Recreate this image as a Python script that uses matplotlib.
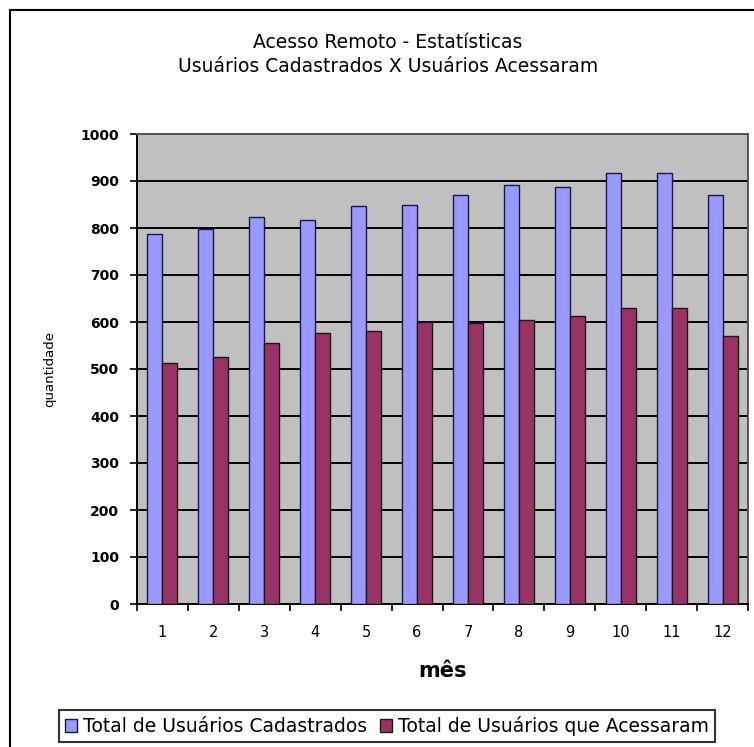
import matplotlib
matplotlib.use("Agg")
import matplotlib.pyplot as plt
from matplotlib.lines import Line2D
import numpy as np

# dados
meses = ["1", "2", "3", "4", "5", "6", "7", "8", "9", "10", "11", "12"]
cadastrados = [787, 797, 824, 816, 846, 850, 871, 891, 888, 917, 917, 871]
acessaram = [513, 526, 555, 576, 580, 600, 598, 605, 613, 629, 629, 571]

plt.rcParams['font.family'] = ['DejaVu Sans']

W, H = 754, 747
fig = plt.figure(figsize=(W / 100, H / 100), dpi=100)
fig.patch.set_facecolor("white")

# plot area in pixel coords
left, right, top, bottom = 137, 748, 134, 604
ax = fig.add_axes([left / W, (H - bottom) / H, (right - left) / W, (bottom - top) / H])
ax.set_facecolor("#C0C0C0")

x = np.arange(len(meses))
w = 0.295
ax.bar(x - w / 2, cadastrados, width=w, color="#9999FF", edgecolor="#1a1a40", linewidth=1.0, zorder=3)
ax.bar(x + w / 2, acessaram, width=w, color="#993366", edgecolor="#1a1a1a", linewidth=1.0, zorder=3)

ax.set_xlim(-0.5, len(meses) - 0.5)
ax.set_ylim(0, 1000)
ax.set_yticks(range(0, 1001, 100))
ax.yaxis.grid(True, color="black", linewidth=1.4, zorder=1)
ax.set_axisbelow(True)

# x labels at category centres, ticks at category boundaries
ax.set_xticks(x)
ax.set_xticklabels(meses, fontsize=10.5)
ax.set_xticks(np.arange(-0.5, len(meses)), minor=True)
ax.tick_params(axis="x", which="major", length=0, pad=15)
ax.tick_params(axis="x", which="minor", length=5, width=1.2, direction="out", color="black")
ax.tick_params(axis="y", length=5, width=1.2, direction="out", pad=8)
for lab in ax.get_yticklabels():
    lab.set_fontweight("bold")
    lab.set_fontsize(10)

for s in ["left", "bottom"]:
    ax.spines[s].set_color("black")
    ax.spines[s].set_linewidth(1.4)
for s in ["top", "right"]:
    ax.spines[s].set_color("#555555")
    ax.spines[s].set_linewidth(1.4)

ax.set_xlabel("mês", fontsize=15, fontweight="bold", labelpad=15)
ax.set_ylabel("quantidade", fontsize=9.5, labelpad=17)

fig.text(388 / W, 1 - 42 / H, "Acesso Remoto - Estatísticas", ha="center", va="center", fontsize=13.5)
fig.text(388 / W, 1 - 67 / H, "Usuários Cadastrados X Usuários Acessaram", ha="center", va="center", fontsize=13.5)

# outer chart border (cropped on right and bottom)
fig.add_artist(Line2D([10 / W, 10 / W], [0, 1 - 10 / H], color="black", linewidth=1.5, transform=fig.transFigure))
fig.add_artist(Line2D([10 / W, 1], [1 - 10 / H, 1 - 10 / H], color="black", linewidth=1.5, transform=fig.transFigure))

leg = fig.legend(["Total de Usuários Cadastrados", "Total de Usuários que Acessaram"],
                 loc="center", bbox_to_anchor=(387 / W, 1 - 726 / H), bbox_transform=fig.transFigure,
                 ncol=2, fontsize=13.5, frameon=True, fancybox=False, handlelength=0.65, handleheight=0.65,
                 handletextpad=0.3, columnspacing=0.7, borderpad=0.3, borderaxespad=0)
leg.get_frame().set_edgecolor("black")
leg.get_frame().set_linewidth(1.5)

fig.savefig("out.png", dpi=100)
